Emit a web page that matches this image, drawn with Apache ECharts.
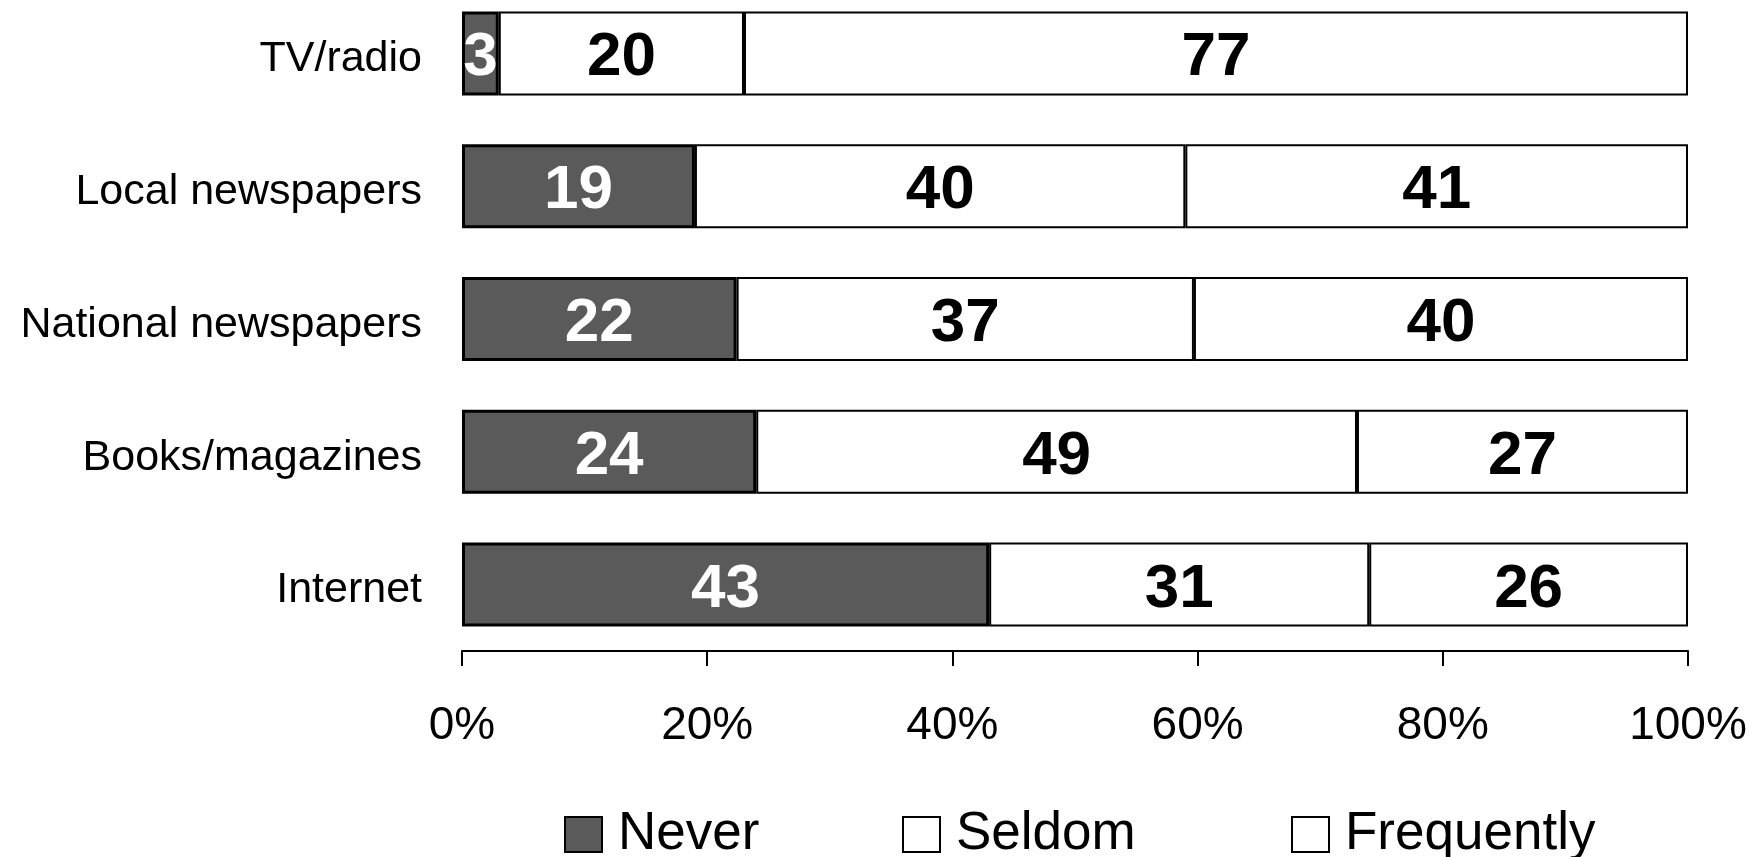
<!DOCTYPE html>
<html>
<head>
<meta charset="utf-8">
<script src="https://cdn.jsdelivr.net/npm/echarts@6/dist/echarts.min.js"></script>
<style>
html,body{margin:0;padding:0;background:#fff;overflow:hidden;}
#chart{position:absolute;left:0;top:-13px;width:1757px;height:870px;}
</style>
</head>
<body>
<div id="chart"></div>
<script>
const categories = ['TV/radio', 'Local newspapers', 'National newspapers', 'Books/magazines', 'Internet'];
const seriesNames = ['Never', 'Seldom', 'Frequently'];
const never = [3, 19, 22.4, 24, 43];
const seldom = [20, 40, 37.3, 49, 31];
const frequently = [77, 41, 40.3, 27, 26];
const xTicks = [0, 20, 40, 60, 80, 100];

const FONT = '"Liberation Sans", Arial, Helvetica, sans-serif';
const chart = echarts.init(document.getElementById('chart'));

function mkSeries(name, data, fill, labelColor, bw) {
  return {
    name: name,
    type: 'bar',
    stack: 'total',
    data: data,
    barWidth: 84,
    itemStyle: { color: fill, borderColor: '#000', borderWidth: bw },
    label: {
      show: true,
      position: 'inside',
      offset: [0, 5],
      color: labelColor,
      fontFamily: FONT,
      fontWeight: 'bold',
      fontSize: 62,
      formatter: function (p) { return Math.round(p.value); }
    },
    emphasis: { disabled: true }
  };
}

function mkLegend(name, left) {
  return {
    data: [name],
    left: left,
    top: 821,
    padding: 0,
    itemWidth: 37,
    itemHeight: 35,
    itemGap: 0,
    icon: 'rect',
    itemStyle: { borderColor: '#000', borderWidth: 2 },
    textStyle: { fontFamily: FONT, fontSize: 53, color: '#000', padding: [0, 0, 0, 11] }
  };
}

chart.setOption({
  animation: false,
  backgroundColor: '#fff',
  grid: { left: 462, right: 69, top: 0, bottom: 206, containLabel: false },
  xAxis: {
    type: 'value',
    min: xTicks[0],
    max: xTicks[xTicks.length - 1],
    interval: 20,
    axisLine: { show: true, lineStyle: { color: '#000', width: 2 } },
    axisTick: { show: true, inside: false, length: 15, lineStyle: { color: '#000', width: 2 } },
    splitLine: { show: false },
    axisLabel: {
      formatter: '{value}%',
      fontFamily: FONT,
      fontSize: 46,
      color: '#000',
      margin: 52
    }
  },
  yAxis: {
    type: 'category',
    data: categories,
    inverse: true,
    axisLine: { show: false },
    axisTick: { show: false },
    axisLabel: {
      fontFamily: FONT, fontSize: 43, color: '#000', margin: 40,
      verticalAlign: 'top', lineHeight: 12
    }
  },
  legend: [
    mkLegend(seriesNames[0], 564),
    mkLegend(seriesNames[1], 902),
    mkLegend(seriesNames[2], 1291)
  ],
  series: [
    mkSeries(seriesNames[0], never, '#5a5a5a', '#fff', 3),
    mkSeries(seriesNames[1], seldom, '#fff', '#000', 2),
    mkSeries(seriesNames[2], frequently, '#fff', '#000', 2)
  ]
});
</script>
</body>
</html>
